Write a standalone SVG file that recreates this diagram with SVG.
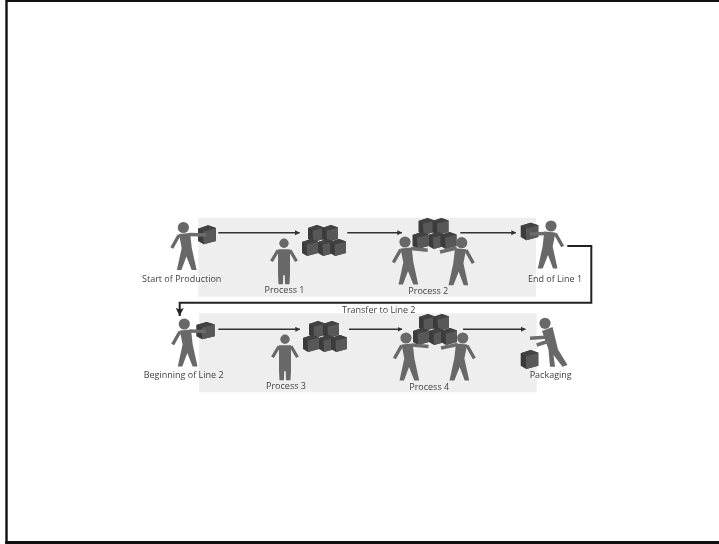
<svg xmlns="http://www.w3.org/2000/svg" width="719" height="544" viewBox="0 0 719 544">
<defs>
<filter id="soft" x="-5%" y="-5%" width="110%" height="110%"><feGaussianBlur stdDeviation="0.55"/></filter>
<marker id="ah" markerUnits="userSpaceOnUse" markerWidth="5" markerHeight="6" refX="4.5" refY="3" orient="auto"><path d="M0 0.5L5 3L0 5.5Z" fill="#333"/></marker>
<marker id="big" markerUnits="userSpaceOnUse" markerWidth="9" markerHeight="8" refX="8" refY="4" orient="auto"><path d="M0 0L8 4L0 8L1.5 4Z" fill="#222"/></marker>
<g id="cube">
<path d="M0 3L9 0L16 2.5V14L5 17L0 14Z" fill="#3a3a3a"/>
<path d="M4.5 5.5L16 2.5V14L5 17Z" fill="#595959"/>
<path d="M0 3L9 0L16 2.5L4.5 5.5Z" fill="#424242"/>
</g>
<g id="pile">
<use href="#cube" x="6" y="0"/><use href="#cube" x="20" y="0"/>
<use href="#cube" x="0" y="14"/><use href="#cube" x="16" y="14"/><use href="#cube" x="28" y="14"/>
</g>
<g id="walker">
<circle cx="0" cy="0" r="5.6" fill="#686868"/>
<path d="M-4.5 6.5L6.7 5.5L8.4 20.5L13.2 42.5L8.3 42.5L3 29L-2 42.5L-6.5 42.5L-1.7 20.5Z" fill="#686868"/>
<path d="M-4.3 7.5L-11.6 20.5" stroke="#686868" stroke-width="3.4" fill="none"/>
</g>
<g id="stander">
<circle cx="0" cy="0" r="4.7" fill="#686868"/>
<path d="M-6 6L6 6L6 31.5L5.5 41L1 41L0.8 32L-0.8 32L-1 41L-5.5 41L-6 31.5Z" fill="#686868"/>
<path d="M-6 7L-12.5 18M6 7L12.5 18" stroke="#686868" stroke-width="3.2" fill="none"/>
</g>
</defs>
<style>
.lbl{font-family:"Open Sans","Noto Sans",sans-serif;font-size:9px;fill:#3f3f3f;text-anchor:middle}
.flow{stroke:#333;stroke-width:1.4;fill:none;marker-end:url(#ah)}
.arm{stroke:#6c6c6c;stroke-width:3.6;fill:none}
.panel{fill:#eeeeee}
</style>
<rect width="719" height="544" fill="#fff"/>
<path id="frame" d="M6.5 544V0.8H719" fill="none" stroke="#111" stroke-width="2.4"/>
<path d="M5.3 542.5H719" fill="none" stroke="#111" stroke-width="3"/>
<g filter="url(#soft)">
<rect class="panel" x="198.3" y="217.7" width="337.7" height="79"/>
<rect class="panel" x="199" y="313.3" width="337.7" height="79"/>
<g id="connectors">
<path class="flow" d="M218.3 232.7H299.5"/>
<path class="flow" d="M347.3 232.7H401.8"/>
<path class="flow" d="M460.3 232.7H515.8"/>
<path class="flow" d="M218.3 329.3H299.8"/>
<path class="flow" d="M349 329.3H402"/>
<path class="flow" d="M463 329.3H525.4"/>
<path d="M567.3 246H591.3V302.8H179.7V316" fill="none" stroke="#222" stroke-width="2" marker-end="url(#big)"/>
</g>
<g id="start-of-production">
<use href="#walker" x="183.4" y="227.5"/>
<use href="#cube" transform="translate(198 225.3) scale(1.12)"/>
<path class="arm" d="M189.5 234.5L206 235"/>
<text class="lbl" x="181.7" y="282">Start of Production</text>
</g>
<g id="process-1">
<use href="#stander" x="284" y="243.3"/>
<use href="#pile" x="302" y="225"/>
<text class="lbl" x="284.5" y="293">Process 1</text>
</g>
<g id="process-2">
<use href="#pile" x="412.5" y="218"/>
<use href="#walker" x="405" y="242"/>
<path class="arm" d="M411 248.5L427.7 250.3"/>
<use href="#walker" transform="translate(461.7 242.7) scale(-1 1)"/>
<path class="arm" d="M456.7 248L440 252"/>
<text class="lbl" x="428.3" y="293.5">Process 2</text>
</g>
<g id="end-of-line-1">
<use href="#cube" transform="translate(520.7 222.8) scale(1.1 1.02)"/>
<use href="#walker" transform="translate(551 226) scale(-1 1)"/>
<path class="arm" d="M546 233.5L530 234"/>
<text class="lbl" x="555" y="282">End of Line 1</text>
</g>
<text id="transfer-label" class="lbl" x="378.7" y="312.5">Transfer to Line 2</text>
<g id="beginning-of-line-2">
<use href="#walker" x="184.3" y="324"/>
<use href="#cube" transform="translate(196.3 322) scale(1.15 1.02)"/>
<path class="arm" d="M190 331L206 331.5"/>
<text class="lbl" x="183.7" y="378.3">Beginning of Line 2</text>
</g>
<g id="process-3">
<use href="#stander" x="285" y="339.3"/>
<use href="#pile" x="303" y="321"/>
<text class="lbl" x="286" y="389.3">Process 3</text>
</g>
<g id="process-4">
<use href="#pile" x="413" y="314"/>
<use href="#walker" x="406" y="338"/>
<path class="arm" d="M412 345L428.5 346.5"/>
<use href="#walker" transform="translate(462.7 338) scale(-1 1)"/>
<path class="arm" d="M457.5 344.5L441 348"/>
<text class="lbl" x="429.2" y="389.7">Process 4</text>
</g>
<g id="packaging">
<circle cx="545" cy="323.3" r="5.6" fill="#686868"/>
<path d="M542 331L552.5 327L558 349.5L567.5 365L562.5 366.7L553.5 355L555 366.7L550 366.7L548.5 349.5Z" fill="#686868"/>
<path class="arm" d="M545 337.3L530 338.3M550 340.7L536.7 345"/>
<use href="#cube" transform="translate(520.7 350) scale(1.1 1.12)"/>
<text class="lbl" x="550.7" y="378.3">Packaging</text>
</g>
</g>
</svg>
